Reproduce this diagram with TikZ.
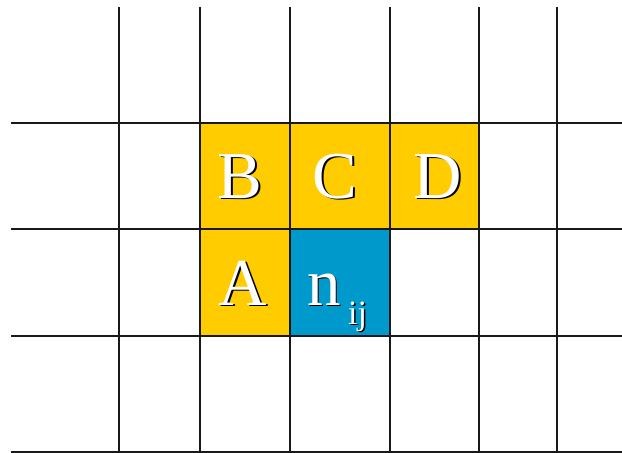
\documentclass[tikz,border=0pt]{standalone}
\usepackage{fontspec}
\setmainfont{Liberation Serif}
\definecolor{cellyellow}{HTML}{FFCC00}
\definecolor{cellblue}{HTML}{0099CC}
\begin{document}
\begin{tikzpicture}[x=1pt,y=-1pt,
  gridline/.style={line width=1.8pt,draw=black!90},
  lbl/.style={inner sep=0pt,anchor=base,text=white,font=\fontsize{67}{67}\selectfont},
  lblshadow/.style={inner sep=0pt,anchor=base,text=black,font=\fontsize{67}{67}\selectfont},
  sub/.style={inner sep=0pt,anchor=base west,text=white,font=\fontsize{34}{34}\selectfont},
  subshadow/.style={inner sep=0pt,anchor=base west,text=black,font=\fontsize{34}{34}\selectfont}]
\useasboundingbox (0,0) rectangle (622,453);
\fill[white] (0,0) rectangle (622,453);
% coloured cells
\fill[cellyellow] (200,123) rectangle (479,229);
\fill[cellyellow] (200,229) rectangle (290,336);
\fill[cellblue] (290,229) rectangle (390,336);
% grid lines
\foreach \x in {119,200,290,390,479,557} \draw[gridline] (\x,7) -- (\x,453);
\foreach \y in {123,229,336,452} \draw[gridline] (11,\y) -- (622,\y);
% labels with shadow
\node[lblshadow] at (241.5,199.5) {B};
\node[lbl] (B) at (240,198) {B};
\node[lblshadow] at (336.5,199.5) {C};
\node[lbl] (C) at (335,198) {C};
\node[lblshadow] at (439.5,199.5) {D};
\node[lbl] (D) at (438,198) {D};
\node[lblshadow] at (244.5,306.5) {A};
\node[lbl] (A) at (243,305) {A};
\node[lblshadow] at (325.5,306.5) {n};
\node[lbl] (n) at (324,305) {n};
\node[subshadow] at (349.5,325.5) {ij};
\node[sub] (ij) at (348,324) {ij};
\end{tikzpicture}
\end{document}
